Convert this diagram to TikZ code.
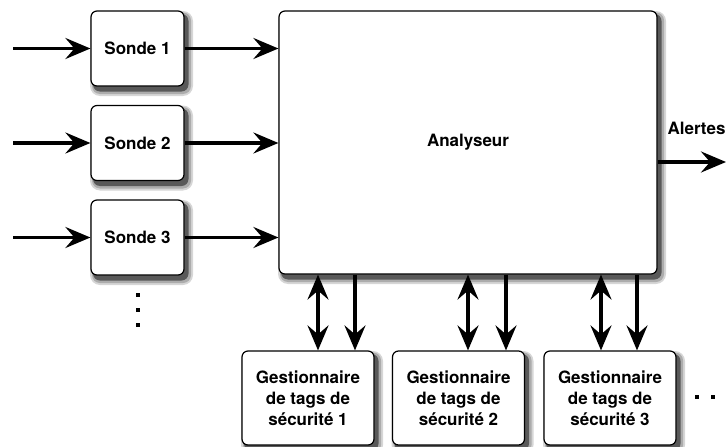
\documentclass[tikz,border=0pt]{standalone}
\usepackage{fontspec}
\setmainfont{TeX Gyre Heros}
\usetikzlibrary{shapes, positioning, calc, arrows.meta}

\begin{document}
\begin{tikzpicture}[x=1pt, y=-1pt,
    font=\fontsize{17}{21}\selectfont\bfseries]
  \newcommand\sondestep{94.5}
  \newcommand\gesty{398}

  \tikzset{ptr/.style={line width=3.3pt, -{Stealth[length=25pt, width=21pt, inset=9pt]}}}
  \tikzset{dptr/.style={line width=3.3pt, {Stealth[length=25pt, width=21pt, inset=9pt]}-{Stealth[length=25pt, width=21pt, inset=9pt]}}}
  \tikzset{box/.style={draw, line width=1.2pt, rounded corners=6pt, fill=white}}
  \tikzset{sondebox/.style={box, minimum width=93pt, minimum height=75pt}}
  \tikzset{gestbox/.style={box, minimum width=132pt, minimum height=94pt, align=center}}
  \tikzset{dot/.style={fill=black}}
  \definecolor{ombre}{gray}{0.35}

  \useasboundingbox (0,0) rectangle (726,447);

  % ombres (centre x / centre y / demi-largeur / demi-hauteur)
  \foreach \cx/\cy/\hw/\hh in {468/142.5/189/131.5, 137.5/48.5/46.5/37.5, 137.5/143/46.5/37.5,
      137.5/237.5/46.5/37.5, 308/398/66/47, 458.5/398/66/47, 610/398/66/47}{
    \fill[ombre!25, rounded corners=10pt] (\cx-\hw-1, \cy-\hh) rectangle (\cx+\hw+9, \cy+\hh+10);
    \fill[ombre!50, rounded corners=8pt] (\cx-\hw+1, \cy-\hh+1.5) rectangle (\cx+\hw+7, \cy+\hh+8);
    \fill[ombre, rounded corners=7pt] (\cx-\hw+2, \cy-\hh+3) rectangle (\cx+\hw+4.5, \cy+\hh+5.5);
  }

  % analyseur
  \node[box, minimum width=378pt, minimum height=263pt] (ana) at (468, 142.5) {Analyseur};

  % sondes
  \foreach \i in {1,2,3}{
    \node[sondebox] (sonde-\i) at (137.5, {48.5+\sondestep*(\i-1)}) {Sonde \i};
    \coordinate (in-\i) at (13, {48.5+\sondestep*(\i-1)});
    \draw[ptr] (in-\i) -- (sonde-\i.west);
    \draw[ptr] (sonde-\i.east) -- (sonde-\i.east -| ana.west);
  }
  \foreach \y in {295, 310, 325}{
    \fill[dot] (136, \y-2) rectangle (140, \y+2);
  }

  % sortie
  \node (alertes) at (696.5, 128) {Alertes};
  \coordinate (out) at (726, 162);
  \draw[ptr] (ana.east |- out) -- (out);

  % gestionnaires de tags
  \foreach \i/\x/\dx/\sx in {1/308/318/355, 2/458.5/468/506, 3/610/601/637}{
    \node[gestbox] (gest-\i) at (\x, \gesty) {Gestionnaire\\de tags de\\sécurité \i};
    \coordinate (d-\i) at (\dx, 0);
    \coordinate (s-\i) at (\sx, 0);
    \draw[dptr] (ana.south -| d-\i) -- (gest-\i.north -| d-\i);
    \draw[ptr] (ana.south -| s-\i) -- (gest-\i.north -| s-\i);
  }
  \foreach \x in {697, 713}{
    \fill[dot] (\x-2, 395) rectangle (\x+2, 399);
  }
\end{tikzpicture}
\end{document}
